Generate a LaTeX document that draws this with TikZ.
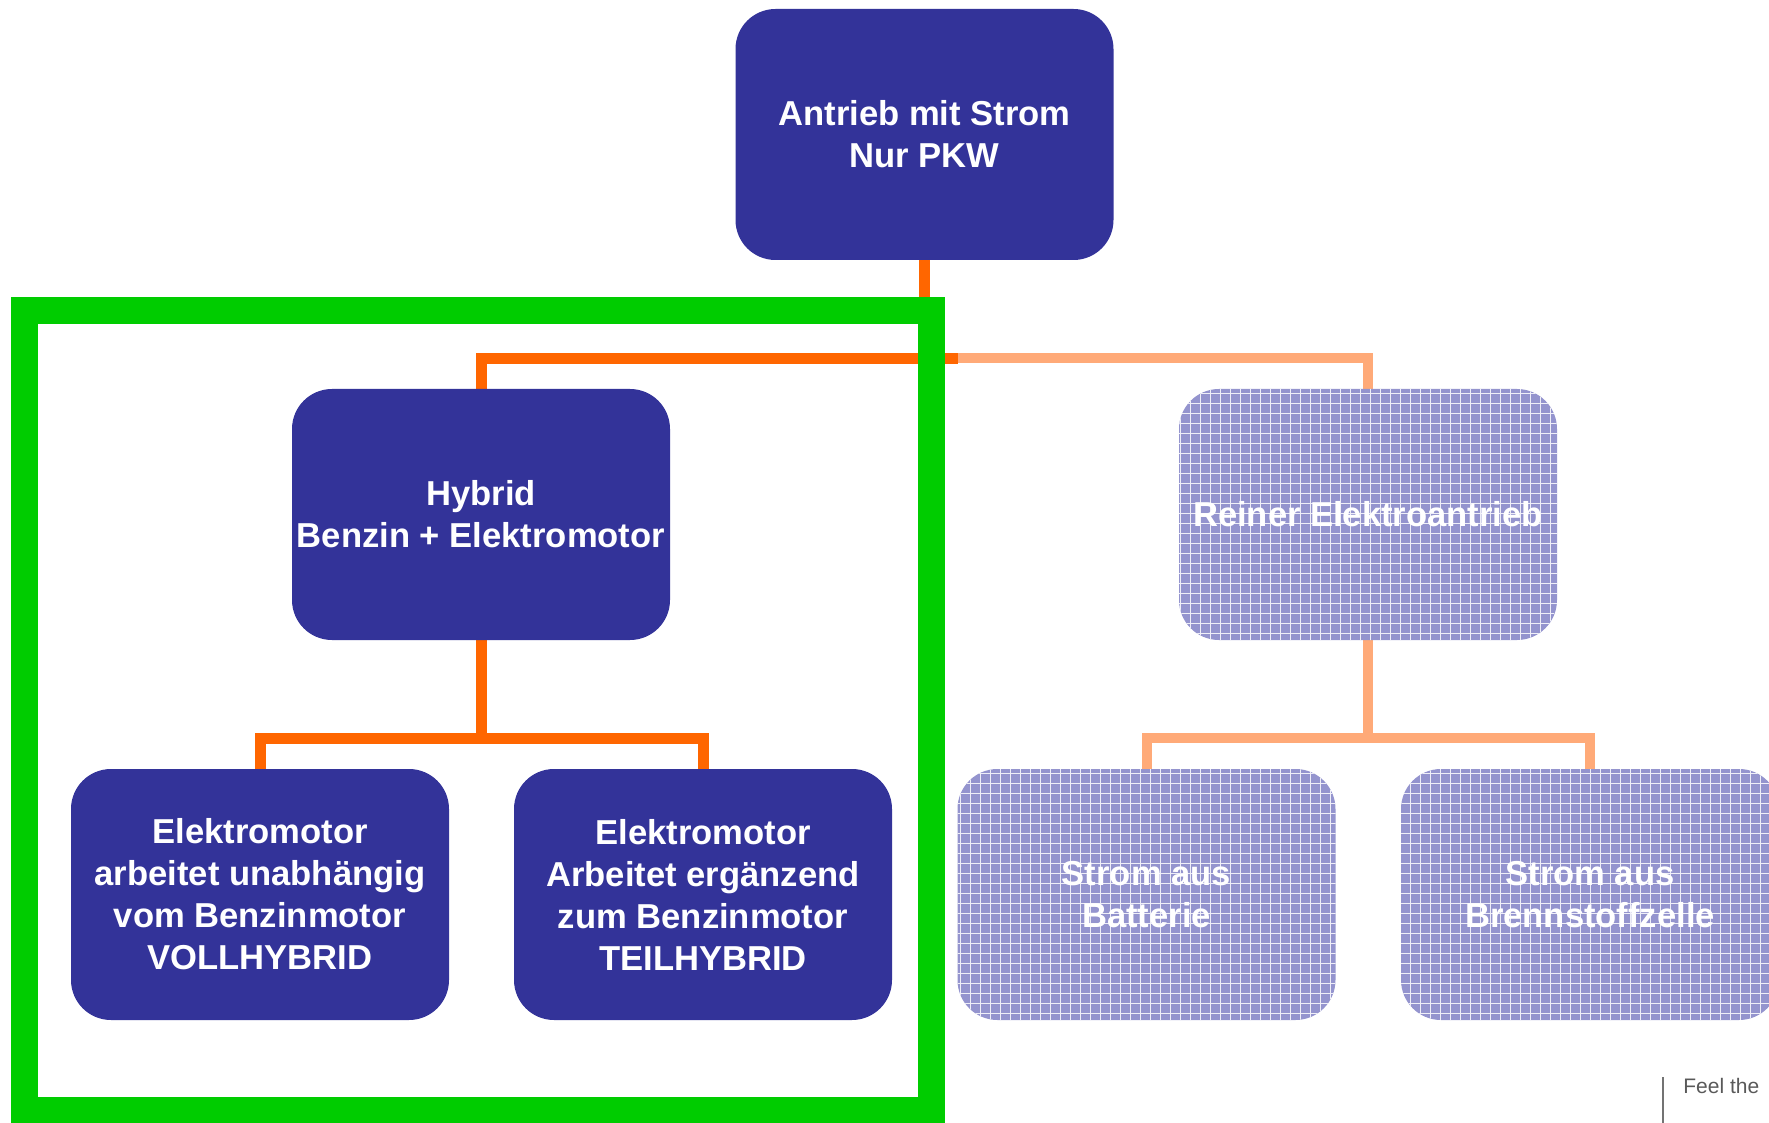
\documentclass[tikz,border=0pt]{standalone}
\usepackage{fontspec}
\setmainfont{Liberation Sans}
\usetikzlibrary{positioning}
\usetikzlibrary{backgrounds}
\usetikzlibrary{patterns.meta}

\definecolor{boxblue}{RGB}{51,51,153}
\definecolor{paleblue}{RGB}{148,148,206}
\definecolor{linkorange}{RGB}{255,102,0}
\definecolor{paleorange}{RGB}{255,170,120}
\definecolor{framegreen}{RGB}{0,204,0}

\tikzset{
  box/.style={rectangle, rounded corners=20pt, fill=boxblue, text=white,
    font=\bfseries\fontsize{17.3}{21}\selectfont, align=center,
    minimum width=189pt, minimum height=125.5pt, inner sep=0pt},
  palebox/.style={box, fill=none, preaction={fill=paleblue},
    pattern={Hatch[angle=0,distance=5pt,line width=0.35pt]},
    pattern color=white!85!paleblue},
  link/.style={draw=linkorange, line width=5.5pt},
  palelink/.style={draw=paleorange, line width=5pt},
}

\begin{document}
\begin{tikzpicture}[x=0.5pt,y=0.5pt,node distance=190pt and 221.75pt,on grid]
  \useasboundingbox (0,0) rectangle (1769,-1123);

  \node[box]     (root)              at (924.5,-134.5) {Antrieb mit Strom\\Nur PKW};
  \node[box]     (hybrid) [below left=of root]          {Hybrid\\Benzin + Elektromotor};
  \node[palebox] (rein)   [below right=of root]         {Reiner Elektroantrieb};
  \node[box]     (voll)   [below left=190pt and 110.5pt of hybrid]
                 {Elektromotor\\arbeitet unabhängig\\vom Benzinmotor\\VOLLHYBRID};
  \node[box]     (teil)   [below right=190pt and 111pt of hybrid]
                 {Elektromotor\\Arbeitet ergänzend\\zum Benzinmotor\\TEILHYBRID};
  \node[palebox] (batt)   [below left=190pt and 110.75pt of rein]  {Strom aus\\Batterie};
  \node[palebox] (zelle)  [below right=190pt and 111pt of rein]    {Strom aus\\Brennstoffzelle};

  % connectors behind the boxes
  \begin{scope}[on background layer]
    \draw[link] (root.south) -- ++(0,-98) coordinate (split);
    \draw[link] (split) -| (hybrid.north);
    \draw[link] (split) -- ++(33,0) coordinate (fade);
    \draw[palelink] (fade) -| (rein.north);

    \draw[link] (hybrid.south) -- ++(0,-98) coordinate (hsplit);
    \draw[link] (hsplit) -| (voll.north);
    \draw[link] (hsplit) -| (teil.north);

    \draw[palelink] (rein.south) -- ++(0,-98) coordinate (rsplit);
    \draw[palelink] (rsplit) -| (batt.north);
    \draw[palelink] (rsplit) -| (zelle.north);
  \end{scope}

  % frame round the hybrid branch
  \draw[framegreen, line width=13.5pt] (24.5,-310.5) rectangle (931.5,-1110.5);

  \node[anchor=base west, inner sep=0pt, text=black!65,
        font=\fontsize{10.5}{12}\selectfont] (feel) at (1683,-1093) {Feel the};
  \draw[black!55, line width=1pt] (1663,-1077) -- (1663,-1123);
\end{tikzpicture}
\end{document}
